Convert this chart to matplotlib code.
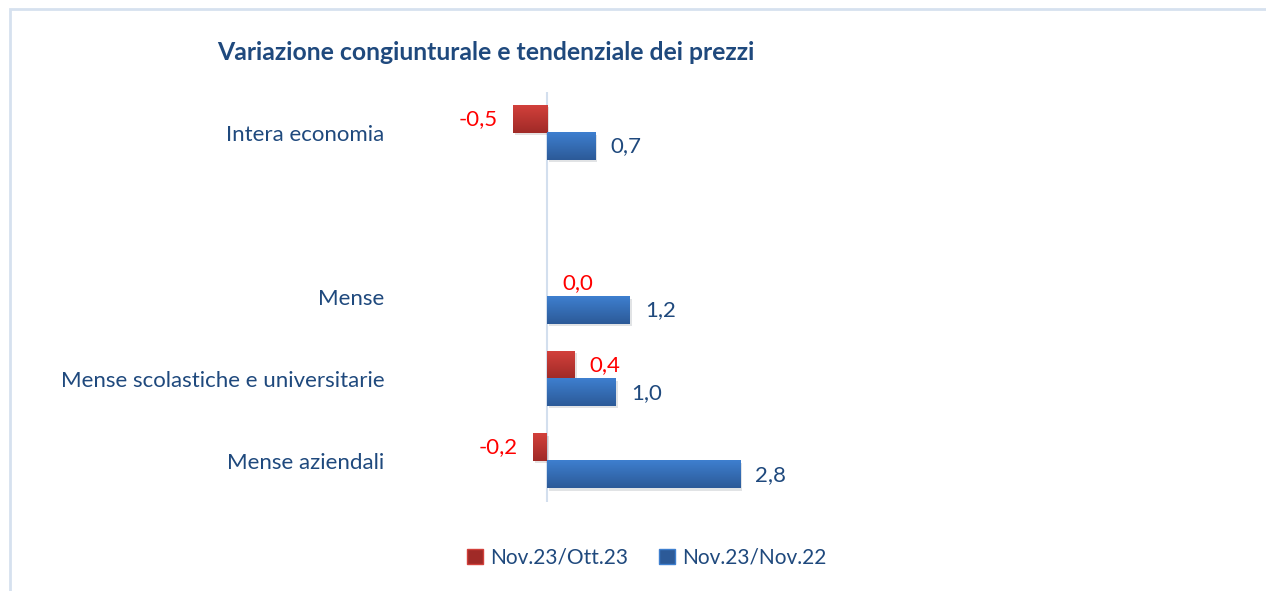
import numpy as np
import matplotlib
matplotlib.use("Agg")
import matplotlib.pyplot as plt
from matplotlib.patches import Rectangle, Patch
from matplotlib.colors import LinearSegmentedColormap
import matplotlib.patheffects as pe

# data (empty category keeps the gap under "Intera economia")
categories = ["Intera economia", "", "Mense",
              "Mense scolastiche e universitarie", "Mense aziendali"]
cong = np.array([-0.5, np.nan, 0.0, 0.4, -0.2])   # Nov.23/Ott.23
tend = np.array([0.7, np.nan, 1.2, 1.0, 2.8])     # Nov.23/Nov.22
series_names = ["Nov.23/Ott.23", "Nov.23/Nov.22"]

NAVY = "#1f497d"
RED_TXT = "#ff0000"
RED_TOP, RED_BOT = "#d2403b", "#a02a27"
BLUE_TOP, BLUE_BOT = "#3e7fcf", "#2c5a98"

plt.rcParams.update({"font.family": ["Lato", "DejaVu Sans"]})

W, H = 1266, 591
fig = plt.figure(figsize=(W / 100, H / 100), dpi=100, facecolor="white")

# outer chart frame (only top/left visible in the crop)
fig.add_artist(Rectangle((9.5 / W, -0.2), 1.2, (H - 8.5) / H + 0.2,
                         transform=fig.transFigure, fill=False,
                         edgecolor="#d6e1ef", lw=2))

ax_l, ax_r = 400, 1100
ax_b, ax_t = 502, 91.5
ax = fig.add_axes([ax_l / W, (H - ax_b) / H, (ax_r - ax_l) / W, (ax_b - ax_t) / H])

scale = 69.0  # px per unit
x0 = -(547 - ax_l) / scale

y = np.arange(len(categories))
h = 0.335
shadow = [pe.SimplePatchShadow(offset=(1.5, -1.5), alpha=0.12), pe.Normal()]
bars_c = ax.barh(y - h / 2, cong, height=h, color=RED_BOT, zorder=2,
                 path_effects=shadow, label=series_names[0])
bars_t = ax.barh(y + h / 2, tend, height=h, color=BLUE_BOT, zorder=2,
                 path_effects=shadow, label=series_names[1])


def gradient(bars, top, bot):
    cmap = LinearSegmentedColormap.from_list("g", [top, bot])
    grad = np.linspace(0, 1, 64).reshape(-1, 1)
    for b in bars:
        w = b.get_width()
        if not np.isfinite(w) or w == 0:
            continue
        bx, by, bh = b.get_x(), b.get_y(), b.get_height()
        ax.imshow(grad, cmap=cmap, aspect="auto", zorder=3,
                  extent=(bx, bx + w, by + bh, by), interpolation="bilinear")


gradient(bars_c, RED_TOP, RED_BOT)
gradient(bars_t, BLUE_TOP, BLUE_BOT)

ax.set_ylim(len(categories) - 0.5, -0.5)
ax.set_xlim(x0, x0 + (ax_r - ax_l) / scale)

ax.axvline(0, color="#d3dfee", lw=1.5, zorder=1)

off = 15 / scale
for vals, ys, col in [(cong, y - h / 2, RED_TXT), (tend, y + h / 2, NAVY)]:
    for v, yy in zip(vals, ys):
        if not np.isfinite(v):
            continue
        lab = f"{v:.1f}".replace(".", ",")
        if v < 0:
            ax.text(v - off, yy, lab, ha="right", va="center", color=col, fontsize=16)
        else:
            ax.text(v + off, yy, lab, ha="left", va="center", color=col, fontsize=16)

ax.set_yticks(y)
ax.set_yticklabels(categories, color=NAVY, fontsize=16)
ax.tick_params(axis="y", length=0, pad=11)
ax.set_xticks([])
for s in ax.spines.values():
    s.set_visible(False)
ax.set_facecolor("none")

fig.text(217 / W, (H - 52) / H, "Variazione congiunturale e tendenziale dei prezzi",
         ha="left", va="center", color=NAVY, fontsize=17.8, fontweight="bold")

handles = [Patch(facecolor=RED_BOT, edgecolor=RED_TOP), Patch(facecolor=BLUE_BOT, edgecolor=BLUE_TOP)]
fig.legend(handles, series_names, loc="center", bbox_to_anchor=(647 / W, (H - 558) / H),
           ncol=2, frameon=False, fontsize=15, labelcolor=NAVY,
           handlelength=0.75, handleheight=0.75, handletextpad=0.35, columnspacing=1.5)

fig.savefig("out.png", dpi=100, facecolor="white")
